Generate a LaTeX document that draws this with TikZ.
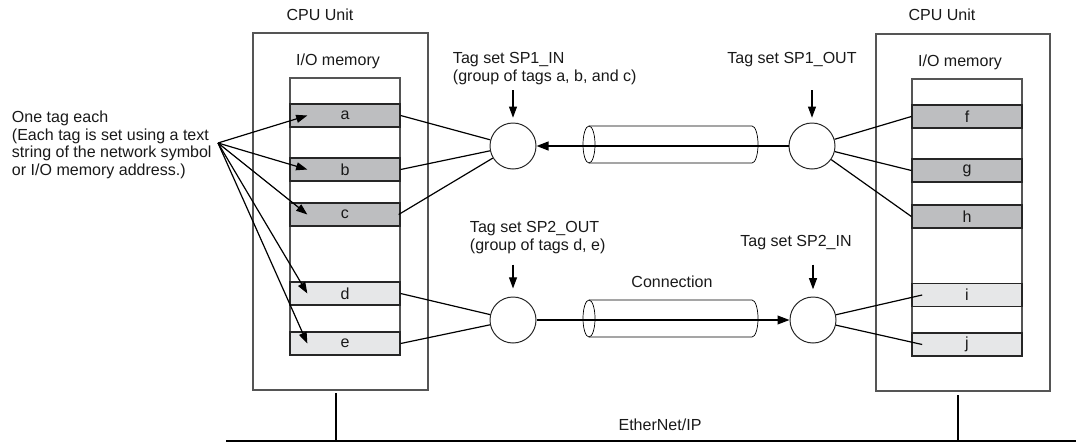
\documentclass[tikz,border=0pt]{standalone}
\usepackage{fontspec}
\setmainfont{Liberation Sans}
\usetikzlibrary{arrows.meta,calc}

\definecolor{tagdark}{RGB}{189,190,192}
\definecolor{taglight}{RGB}{230,231,232}
\definecolor{boxgray}{RGB}{85,85,85}

\begin{document}
\begin{tikzpicture}[x=0.025cm, y=-0.025cm,
  every node/.style={font=\fontsize{11.4}{12.4}\selectfont, text=black!90},
  unitbox/.style={draw=boxgray, line width=0.75pt},
  tagrow/.style={draw=black!85, line width=0.9pt, minimum width=2.75cm, minimum height=0.575cm, inner sep=0pt},
  tagset/.style={draw=black!85, circle, line width=0.7pt, minimum size=1.15cm, inner sep=0pt, fill=white},
  link/.style={line width=0.85pt},
  tube/.style={line width=0.5pt},
  tip/.style={line width=0.85pt, -{Triangle[length=0.28cm,width=0.2cm]}},
  flow/.style={line width=1.2pt, -{Triangle[length=0.3cm,width=0.22cm]}}]
\useasboundingbox (0,0) rectangle (1076,442);

% CPU units
\draw[unitbox] (253,33) rectangle (428,390);
\draw[unitbox] (876,34) rectangle (1050,391);
\node (cpuL) at (320,15) {CPU Unit};
\node (cpuR) at (942,15) {CPU Unit};

% I/O memory
\node (memL) at (338,61) {I/O memory};
\node (memR) at (960,62) {I/O memory};
\draw[unitbox] (290,78) rectangle (400,355);
\draw[unitbox] (912,79) rectangle (1022,356);

% Tags, left unit
\node[tagrow, fill=tagdark] (a) at (345,115.5) {a};
\node[tagrow, fill=tagdark] (b) at (345,169.5) {b};
\node[tagrow, fill=tagdark] (c) at (345,214.5) {c};
\node[tagrow, fill=taglight] (d) at (345,293.5) {d};
\node[tagrow, fill=taglight] (e) at (345,343.5) {e};

% Tags, right unit
\node[tagrow, fill=tagdark] (f) at (967,116.5) {f};
\node[tagrow, fill=tagdark] (g) at (967,170.5) {g};
\node[tagrow, fill=tagdark] (h) at (967,216.5) {h};
\node[tagrow, fill=taglight] (i) at (967,295) {i};
\node[tagrow, fill=taglight] (j) at (967,344.5) {j};

% Connection tubes
\draw[tube] (589,126) -- (752,126) arc (90:-90:0.15cm and 0.4625cm) -- (589,163);
\draw[tube] (589,144.5) ellipse (0.15cm and 0.4625cm);
\draw[tube] (589,300) -- (752,300) arc (90:-90:0.15cm and 0.4625cm) -- (589,337);
\draw[tube] (589,318.5) ellipse (0.15cm and 0.4625cm);
\node (conn) at (672,282) {Connection};

% Tag sets
\node[tagset] (in1) at (513,146) {};
\node[tagset] (out1) at (812,146) {};
\node[tagset] (out2) at (513,320) {};
\node[tagset] (in2) at (813,320) {};

\node[anchor=west, align=left] (lbin1) at (448,68.5) {Tag set SP1\_IN\\(group of tags a, b, and c)};
\node (lbout1) at (792,60) {Tag set SP1\_OUT};
\node[anchor=west, align=left] (lbout2) at (465,237.5) {Tag set SP2\_OUT\\(group of tags d, e)};
\node (lbin2) at (796,243) {Tag set SP2\_IN};

\draw[tip] ([yshift=0.8cm]in1.north) -- ([yshift=0.12cm]in1.north);
\draw[tip] ([yshift=0.8cm]out1.north) -- ([yshift=0.12cm]out1.north);
\draw[tip] ([yshift=0.8cm]out2.north) -- ([yshift=0.2cm]out2.north);
\draw[tip] ([yshift=0.8cm]in2.north) -- ([yshift=0.18cm]in2.north);

% Data flow
\draw[flow] (out1) -- (in1);
\draw[flow, line width=1pt] (out2) -- (in2);

% Tags to tag sets
\draw[link] (a.east) -- (in1);
\draw[link] (b.east) -- (in1);
\draw[link] ([xshift=-0.05cm]c.east) -- (in1);
\draw[link] (d.east) -- (out2);
\draw[link] (e.east) -- (out2);
\draw[link] (out1) -- (f.west);
\draw[link] (out1) -- (g.west);
\draw[link] (out1) -- (h.west);
\draw[link] (in2) -- ([xshift=0.27cm]i.west);
\draw[link] (in2) -- ([xshift=0.27cm]j.west);

% One tag each
\node[anchor=west, align=left] (note) at (7,145) {One tag each\\(Each tag is set using a text\\string of the network symbol\\or I/O memory address.)};
\coordinate (fan) at (218,143);
\foreach \t in {a,b,c,d,e}
  \draw[tip] (fan) -- ([xshift=0.45cm]\t.west);

% EtherNet/IP
\coordinate (busL) at (226,441);
\coordinate (busR) at (1076,441);
\draw[line width=1.6pt] (busL) -- (busR);
\draw[line width=1pt] (336,393) -- (336,0 |- busL);
\draw[line width=1pt] (958,395) -- (958,0 |- busL);
\node (net) at (660,425) {EtherNet/IP};
\end{tikzpicture}
\end{document}
